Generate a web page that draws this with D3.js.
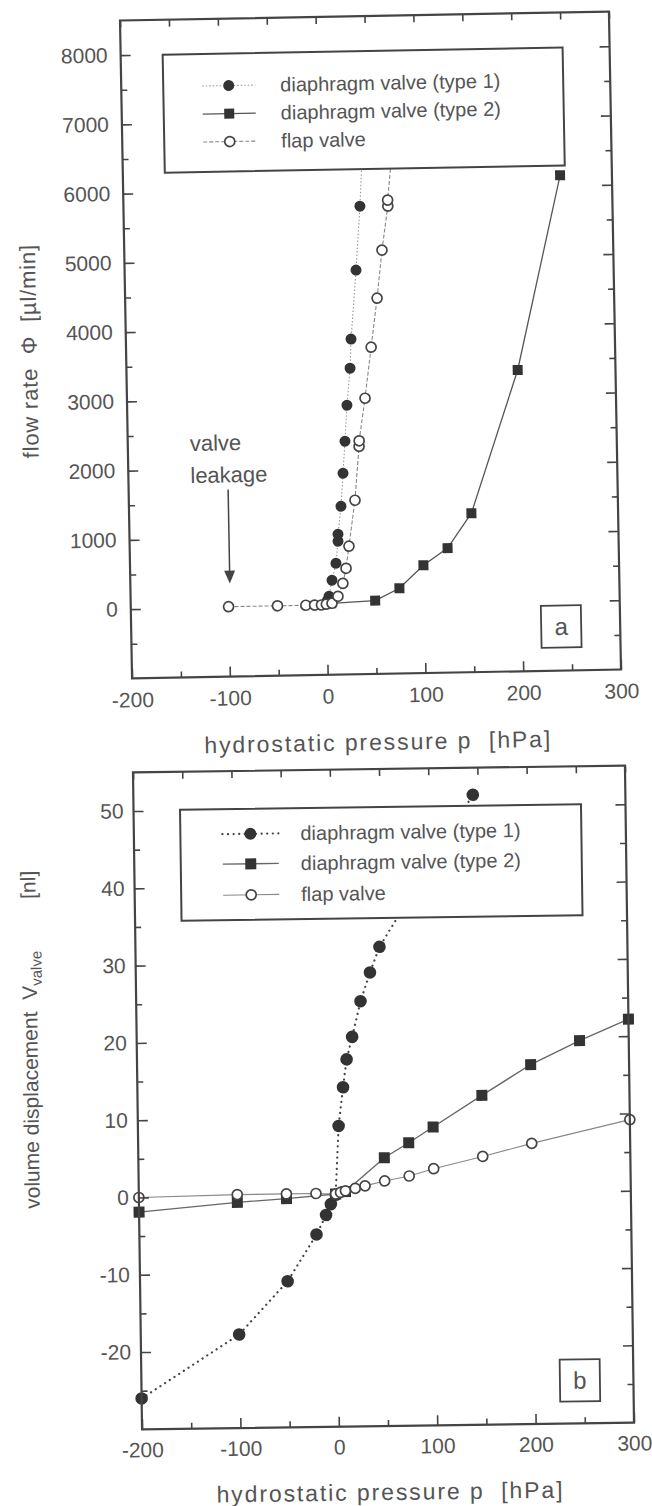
<!DOCTYPE html>
<html>
<head>
<meta charset="utf-8">
<script src="https://cdn.jsdelivr.net/npm/d3@7/dist/d3.min.js"></script>
<style>
  body { margin: 0; background: #fff; }
  svg text { font-family: "Liberation Sans", Arial, Helvetica, sans-serif; fill: #555; }
</style>
</head>
<body>
<script>
var width = 652, height = 1506;

// shared axis ticks (hydrostatic pressure p [hPa])
var xTicks = [-200, -100, 0, 100, 200, 300];
var xMinor = [-150, -50, 50, 150, 250];
var legendLabels = ["diaphragm valve (type 1)", "diaphragm valve (type 2)", "flap valve"];

// panel a: flow rate [µl/min]
var aYTicks = [0, 1000, 2000, 3000, 4000, 5000, 6000, 7000, 8000];
var aYMinor = [-500, 500, 1500, 2500, 3500, 4500, 5500, 6500, 7500];
var aType1P = [1, 2.9, 6.2, 10.6, 13.1, 13.2, 16.8, 19.5, 22.1, 24.8, 28.7, 30.2, 36.6, 41.8, 49];
var aType1V = [70, 134, 364, 608, 926, 1027, 1430, 1906, 2368, 2887, 3421, 3840, 4835, 5757, 7400];
var aType2P = [5, 50, 75, 100, 125, 150, 200, 247];
var aType2V = [30, 60, 231, 557, 797, 1295, 3350, 6150];
var aFlapP = [-100, -50, -21, -12, -5, 0, 5.8, 12, 17.3, 20.8, 24.2, 31.2, 36.4, 36.6, 43.4, 50.6, 57.6, 63.5, 70.3, 70.2, 80];
var aFlapV = [10, 10, 10, 10, 10, 20, 32, 131, 316, 533, 851, 1513, 2290, 2370, 2983, 3718, 4424, 5116, 5750, 5837, 7100];

// panel b: volume displacement [nl]
var bYTicks = [-20, -10, 0, 10, 20, 30, 40, 50];
var bYMinor = [-25, -15, -5, 5, 15, 25, 35, 45];
var bType1P = [-200, -100, -50, -20, -10, -5, 0, 4, 9, 13, 19, 28, 38, 48, 145];
var bType1V = [-26, -17.9, -11.1, -5.1, -2.6, -1.2, 0, 8.9, 13.9, 17.5, 20.4, 25, 28.7, 32, 51.5];
var bType2P = [-200, -100, -50, 0, 10, 50, 75, 100, 150, 200, 250, 300];
var bType2V = [-1.9, -0.8, -0.4, 0.1, 0.4, 4.7, 6.6, 8.6, 12.6, 16.5, 19.5, 22.2];
var bFlapP = [-200, -100, -50, -20, 0, 5, 10, 20, 30, 50, 75, 100, 150, 200, 300];
var bFlapV = [0, 0.2, 0.2, 0.2, 0.1, 0.3, 0.5, 0.8, 1.1, 1.7, 2.3, 3.2, 4.7, 6.3, 9.2];

var svg = d3.select("body").append("svg")
    .attr("width", width)
    .attr("height", height);

// plain hyphen minus, no thousands separator
var fmt = function(d) { return String(d); };

function zip(p, v) {
    return p.map(function(d, i) { return {p: d, v: v[i]}; });
}

function styleAxis(sel, fontSize) {
    sel.select(".domain").remove();
    sel.selectAll("line").attr("stroke", "#444").attr("stroke-width", 1.6);
    sel.selectAll("text").attr("font-size", fontSize).attr("fill", "#555")
        .style("font-family", "'Liberation Sans', Arial, sans-serif");
}

function drawMarker(g, shape, cx, cy, r) {
    if (shape == "square") {
        g.append("rect").attr("x", cx - r).attr("y", cy - r)
            .attr("width", 2 * r).attr("height", 2 * r).attr("fill", "#333");
    } else if (shape == "open") {
        g.append("circle").attr("cx", cx).attr("cy", cy).attr("r", r)
            .attr("fill", "#fff").attr("stroke", "#444").attr("stroke-width", 1.7);
    } else {
        g.append("circle").attr("cx", cx).attr("cy", cy).attr("r", r).attr("fill", "#333");
    }
}

function drawPanel(o) {
    var g = svg.append("g").attr("transform", "rotate(" + o.angle + "," + o.cx + "," + o.cy + ")");
    var x = d3.scaleLinear().domain([-200, 300]).range([o.left, o.right]);
    var y = d3.scaleLinear().domain(o.yDomain).range([o.bottom, o.top]);

    // series
    o.series.forEach(function(s) {
        var data = zip(s.p, s.v);
        var line = d3.line().x(function(d) { return x(d.p); }).y(function(d) { return y(d.v); });
        g.append("path").datum(data).attr("d", line)
            .attr("fill", "none").attr("stroke", s.color).attr("stroke-width", s.width)
            .attr("stroke-dasharray", s.dash).attr("stroke-linecap", s.cap || "butt");
        data.forEach(function(d) { drawMarker(g, s.shape, x(d.p), y(d.v), s.r); });
    });

    // legend (white box covers the series behind it)
    var lg = o.legend;
    g.append("rect").attr("x", lg.x).attr("y", lg.y).attr("width", lg.w).attr("height", lg.h)
        .attr("fill", "#fff").attr("stroke", "#444").attr("stroke-width", 2);
    o.series.forEach(function(s, i) {
        var ry = lg.rows[i];
        g.append("line").attr("x1", lg.lx1).attr("x2", lg.lx2).attr("y1", ry).attr("y2", ry)
            .attr("stroke", s.color).attr("stroke-width", s.width)
            .attr("stroke-dasharray", s.dash).attr("stroke-linecap", s.cap || "butt");
        drawMarker(g, s.shape, (lg.lx1 + lg.lx2) / 2, ry, s.legendR || s.r);
        g.append("text").attr("x", lg.tx).attr("y", ry).attr("dy", "0.35em")
            .attr("font-size", lg.font).text(legendLabels[i]);
    });

    // axes, ticks pointing inward on all four sides
    g.append("g").attr("transform", "translate(0," + o.bottom + ")")
        .call(d3.axisBottom(x).tickValues(xTicks).tickFormat(fmt).tickSize(-10).tickSizeOuter(0).tickPadding(o.xPad))
        .call(styleAxis, o.tickFont);
    g.append("g").attr("transform", "translate(0," + o.bottom + ")")
        .call(d3.axisBottom(x).tickValues(xMinor).tickSize(-6).tickSizeOuter(0).tickFormat(""))
        .call(styleAxis, o.tickFont);
    g.append("g").attr("transform", "translate(0," + o.top + ")")
        .call(d3.axisTop(x).tickValues(xTicks.concat(xMinor)).tickSize(-7).tickSizeOuter(0).tickFormat(""))
        .call(styleAxis, o.tickFont);
    g.append("g").attr("transform", "translate(" + o.left + ",0)")
        .call(d3.axisLeft(y).tickValues(o.yTicks).tickFormat(fmt).tickSize(-10).tickSizeOuter(0).tickPadding(o.yPad))
        .call(styleAxis, o.tickFont);
    g.append("g").attr("transform", "translate(" + o.left + ",0)")
        .call(d3.axisLeft(y).tickValues(o.yMinor).tickSize(-6).tickSizeOuter(0).tickFormat(""))
        .call(styleAxis, o.tickFont);
    g.append("g").attr("transform", "translate(" + o.right + ",0)")
        .call(d3.axisRight(y).tickValues(o.yTicks).tickSize(-10).tickSizeOuter(0).tickFormat(""))
        .call(styleAxis, o.tickFont);
    g.append("g").attr("transform", "translate(" + o.right + ",0)")
        .call(d3.axisRight(y).tickValues(o.yMinor).tickSize(-6).tickSizeOuter(0).tickFormat(""))
        .call(styleAxis, o.tickFont);

    g.append("rect").attr("x", o.left).attr("y", o.top)
        .attr("width", o.right - o.left).attr("height", o.bottom - o.top)
        .attr("fill", "none").attr("stroke", "#444").attr("stroke-width", 2.2);

    // panel letter
    g.append("rect").attr("x", o.tag.x - 20).attr("y", o.tag.y - 21).attr("width", 40).attr("height", 42)
        .attr("fill", "#fff").attr("stroke", "#444").attr("stroke-width", 1.8);
    g.append("text").attr("x", o.tag.x).attr("y", o.tag.y).attr("dy", "0.35em")
        .attr("text-anchor", "middle").attr("font-size", 24).text(o.tag.text);

    // x title
    g.append("text").attr("x", o.xTitle.x).attr("y", o.xTitle.y).attr("dy", "0.35em")
        .attr("text-anchor", "middle").attr("font-size", 23).attr("letter-spacing", 1.9)
        .attr("xml:space", "preserve").text("hydrostatic pressure p  [hPa]");

    return {g: g, x: x, y: y};
}

// ---------- panel a ----------
var pa = drawPanel({
    angle: -1.05, cx: 370.5, cy: 345,
    left: 126, right: 615, top: 16, bottom: 674,
    yDomain: [-1000, 8500], yTicks: aYTicks, yMinor: aYMinor,
    tickFont: 21, xPad: 14, yPad: 13,
    series: [
        {p: aType1P, v: aType1V, shape: "filled", r: 5.5, color: "#999", width: 1.1, dash: "1.5,2"},
        {p: aType2P, v: aType2V, shape: "square", r: 5, color: "#555", width: 1.3, dash: null},
        {p: aFlapP, v: aFlapV, shape: "open", r: 5, color: "#888", width: 1.1, dash: "4,2"}
    ],
    legend: {x: 168, y: 51, w: 400, h: 118, rows: [83, 111, 139], lx1: 207, lx2: 260, tx: 285, font: 20},
    tag: {x: 556, y: 630, text: "a"},
    xTitle: {x: 371, y: 742}
});

pa.g.append("text").attr("x", 188).attr("y", 440).attr("dy", "0.35em")
    .attr("font-size", 22).text("valve");
pa.g.append("text").attr("x", 188).attr("y", 472).attr("dy", "0.35em")
    .attr("font-size", 22).text("leakage");
pa.g.append("line").attr("x1", 225.5).attr("x2", 225.5).attr("y1", 487).attr("y2", 570)
    .attr("stroke", "#444").attr("stroke-width", 1.5);
pa.g.append("path").attr("d", "M220,568 L225.5,581 L231,568 Z").attr("fill", "#444");

pa.g.append("text").attr("transform", "translate(29,345) rotate(-90)")
    .attr("text-anchor", "middle").attr("dy", "0.35em").attr("font-size", 22)
    .attr("letter-spacing", 0.8).attr("xml:space", "preserve")
    .text("flow rate  \u03A6  [\u00B5l/min]");

// ---------- panel b ----------
var pb = drawPanel({
    angle: -0.79, cx: 383.5, cy: 1097,
    left: 137.5, right: 629.5, top: 769, bottom: 1426,
    yDomain: [-30, 55], yTicks: bYTicks, yMinor: bYMinor,
    tickFont: 21, xPad: 13, yPad: 10,
    series: [
        {p: bType1P, v: bType1V, shape: "filled", r: 6.3, legendR: 6, color: "#444", width: 2.2, dash: "0.1,5.5", cap: "round"},
        {p: bType2P, v: bType2V, shape: "square", r: 5.5, color: "#666", width: 1.3, dash: null},
        {p: bFlapP, v: bFlapV, shape: "open", r: 5, color: "#888", width: 1.1, dash: null}
    ],
    legend: {x: 184, y: 807, w: 401, h: 111, rows: [832, 862, 893], lx1: 226, lx2: 282, tx: 304, font: 20},
    tag: {x: 576, y: 1383, text: "b"},
    xTitle: {x: 385, y: 1492}
});

var yt = pb.g.append("text").attr("transform", "translate(31,1035) rotate(-90)")
    .attr("text-anchor", "middle").attr("dy", "0.35em").attr("font-size", 21)
    .attr("xml:space", "preserve");
yt.append("tspan").text("volume displacement  V");
yt.append("tspan").attr("font-size", 15).attr("dy", 5).text("valve");
yt.append("tspan").attr("dy", -5).attr("dx", 52).text("[nl]");
</script>
</body>
</html>
